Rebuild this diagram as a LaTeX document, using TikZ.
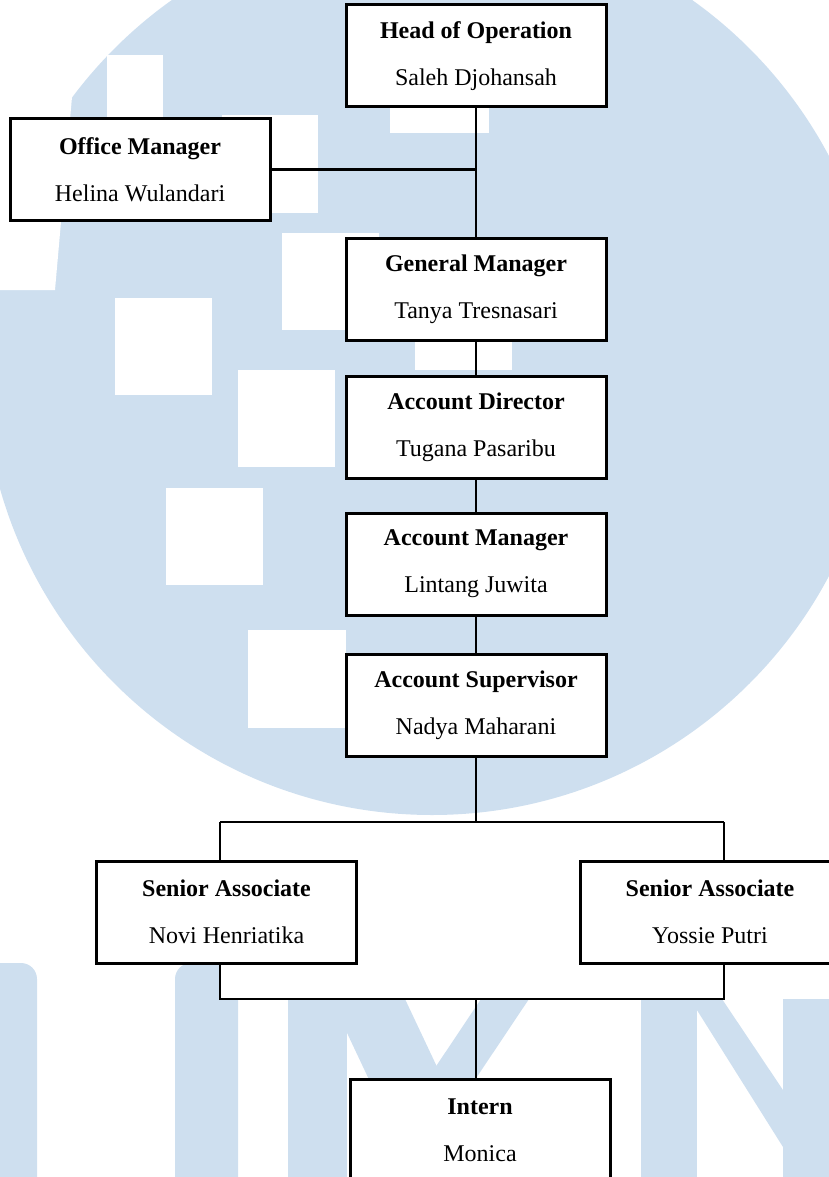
\documentclass[tikz,border=0pt]{standalone}
\usepackage{fontspec}
\setmainfont{Liberation Serif}
\usepackage{tikz}
\usepackage{xcolor}
\usetikzlibrary{calc}
\definecolor{umnblue}{RGB}{206,223,239}

\begin{document}
\begin{tikzpicture}[x=0.5pt,y=-0.5pt,
  box/.style={draw=black,fill=white,line width=1.5pt,minimum width=130pt,minimum height=51pt,inner sep=0pt,align=center,font=\fontsize{12}{23.5}\selectfont},
  link/.style={draw=black,line width=1.45pt}]
\useasboundingbox (0,0) rectangle (829,1177);
\clip (0,0) rectangle (829,1177);
\fill[umnblue] (432,366) circle[radius=224.5pt];
\fill[white] (0,97) -- (72,97) -- (55,290) -- (0,290) -- cycle;
\fill[white] (107,55) rectangle (163,150);
\fill[white] (222,115) rectangle (318,213);
\fill[white] (282,233) rectangle (379,330);
\fill[white] (115,298) rectangle (212,395);
\fill[white] (238,370) rectangle (335,467);
\fill[white] (166,488) rectangle (263,585);
\fill[white] (248,630) rectangle (346,728);
\fill[white] (390,36) rectangle (489,133);
\fill[white] (415,273) rectangle (512,370);
\fill[umnblue,rounded corners=8pt] (-40,963) rectangle (37,1250);
\fill[umnblue,rounded corners=8pt] (175,963) rectangle (238,1250);
\fill[umnblue] (288,999) rectangle (347,1250);
\fill[umnblue] (331,999) -- (405,999) -- (489,1177) -- (415,1177) -- cycle;
\fill[umnblue] (481,999) -- (529,999) -- (410,1177) -- (362,1177) -- cycle;
\fill[umnblue] (641,999) rectangle (697,1250);
\fill[umnblue] (690,999) -- (722,999) -- (850,1190) -- (810,1190) -- cycle;
\fill[umnblue] (783,999) rectangle (840,1250);
\fill[white] (220,822) rectangle (724,999);
\node[box] (head) at (476,56) {\textbf{Head of Operation}\\Saleh Djohansah};
\node[box] (office) at (140,169.5) {\textbf{Office Manager}\\Helina Wulandari};
\node[box] (gm) at (476,289) {\textbf{General Manager}\\Tanya Tresnasari};
\node[box] (ad) at (476,427) {\textbf{Account Director}\\Tugana Pasaribu};
\node[box] (am) at (476,564) {\textbf{Account Manager}\\Lintang Juwita};
\node[box] (as) at (476,705.5) {\textbf{Account Supervisor}\\Nadya Maharani};
\node[box] (sa1) at (226.5,912) {\textbf{Senior Associate}\\Novi Henriatika};
\node[box] (sa2) at (710,912) {\textbf{Senior Associate}\\Yossie Putri};
\node[box] (intern) at (480,1130) {\textbf{Intern}\\Monica};
\coordinate (mt) at (476,822);
\coordinate (mb) at (476,999);
\coordinate (tl) at (220,822);
\coordinate (tr) at (724,822);
\coordinate (bl) at (220,999);
\coordinate (br) at (724,999);
\draw[link] (head) -- (gm);
\draw[link] (office.east) -- (office.east -| head.south);
\draw[link] (gm) -- (ad);
\draw[link] (ad) -- (am);
\draw[link] (am) -- (as);
\draw[link] (as.south) -- (mt);
\draw[link] (tl) -- (tr);
\draw[link] (tl) -- (tl |- sa1.north);
\draw[link] (tr) -- (tr |- sa2.north);
\draw[link] (tl |- sa1.south) -- (bl) -- (br) -- (tr |- sa2.south);
\draw[link] (mb) -- (mb |- intern.north);
\end{tikzpicture}
\end{document}
